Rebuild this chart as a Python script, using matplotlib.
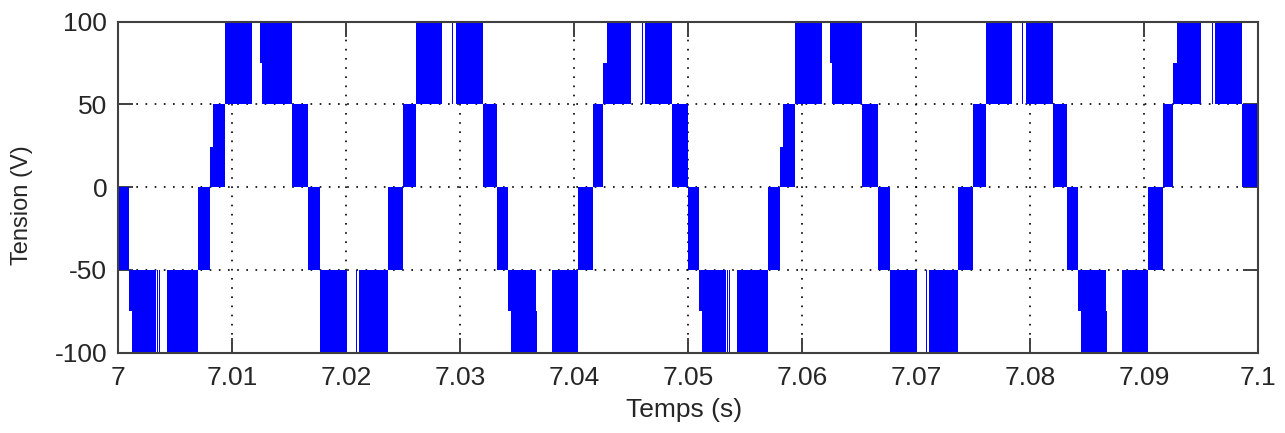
import matplotlib
matplotlib.use("Agg")
import matplotlib.pyplot as plt

# Time origin (s) and segment data (times in ms after 7.0 s)
t_origin = 7.0
seg_start_ms = [
    0.00, 0.98, 1.18, 3.39, 3.57, 4.25, 6.96, 8.04, 8.33, 9.36,
    12.43, 12.63, 15.26, 16.67, 17.69, 20.89, 21.11, 23.63, 25.00, 26.11,
    29.25, 29.62, 32.02, 33.26, 34.18, 34.42, 36.64, 36.86, 37.65, 38.02,
    40.35, 41.64, 42.52, 42.84, 45.11, 45.94, 46.20, 48.60,
    50.00, 50.98, 51.18, 53.39, 53.57, 54.25, 56.96, 58.04, 58.33, 59.36,
    62.43, 62.63, 65.26, 66.67, 67.69, 70.89, 71.11, 73.63, 75.00, 76.11,
    79.25, 79.62, 82.02, 83.26, 84.18, 84.42, 86.64, 86.86, 87.65, 88.02,
    90.35, 91.64, 92.52, 92.84, 95.11, 95.94, 96.20, 98.60,
]
seg_end_ms = [
    0.98, 1.18, 3.31, 3.45, 3.62, 6.96, 8.04, 8.33, 9.36, 11.70,
    12.63, 15.26, 16.67, 17.69, 20.09, 20.96, 23.63, 25.00, 26.11, 28.42,
    29.32, 32.02, 33.26, 34.18, 34.42, 36.64, 36.73, 36.93, 37.72, 40.35,
    41.64, 42.52, 42.84, 44.97, 45.18, 46.01, 48.60, 50.00,
    50.98, 51.18, 53.31, 53.45, 53.62, 56.96, 58.04, 58.33, 59.36, 61.70,
    62.63, 65.26, 66.67, 67.69, 70.09, 70.96, 73.63, 75.00, 76.11, 78.42,
    79.32, 82.02, 83.26, 84.18, 84.42, 86.64, 86.73, 86.93, 87.72, 90.35,
    91.64, 92.52, 92.84, 94.97, 95.18, 96.01, 98.60, 100.00,
]
seg_low = [
    -50, -75, -100, -100, -100, -100, -50, 0, 0, 50,
    75, 50, 0, -50, -100, -100, -100, -50, 0, 50,
    50, 50, 0, -50, -75, -100, -100, -100, -100, -100,
    -50, 0, 50, 50, 50, 50, 50, 0,
    -50, -75, -100, -100, -100, -100, -50, 0, 0, 50,
    75, 50, 0, -50, -100, -100, -100, -50, 0, 50,
    50, 50, 0, -50, -75, -100, -100, -100, -100, -100,
    -50, 0, 50, 50, 50, 50, 50, 0,
]
seg_high = [
    0, -50, -50, -50, -50, -50, 0, 24, 50, 100,
    100, 100, 50, 0, -50, -50, -50, 0, 50, 100,
    100, 100, 50, 0, -50, -50, -75, -50, -50, -50,
    0, 50, 75, 100, 100, 100, 100, 50,
    0, -50, -50, -50, -50, -50, 0, 24, 50, 100,
    100, 100, 50, 0, -50, -50, -50, 0, 50, 100,
    100, 100, 50, 0, -50, -50, -75, -50, -50, -50,
    0, 50, 75, 100, 100, 100, 100, 50,
]

x_ticks = [7.0, 7.01, 7.02, 7.03, 7.04, 7.05, 7.06, 7.07, 7.08, 7.09, 7.1]
x_tick_labels = ["7", "7.01", "7.02", "7.03", "7.04", "7.05", "7.06", "7.07", "7.08", "7.09", "7.1"]
y_ticks = [-100, -50, 0, 50, 100]
y_tick_labels = ["-100", "-50", "0", "50", "100"]

plt.rcParams['font.family'] = ['Liberation Sans', 'DejaVu Sans']

fig = plt.figure(figsize=(12.85, 4.33), dpi=100)
ax = fig.add_axes([118.3 / 1285, 1 - 352.5 / 433, (1258.3 - 118.3) / 1285, (352.5 - 21.7) / 433])

starts = [t_origin + s / 1000.0 for s in seg_start_ms]
widths = [(e - s) / 1000.0 for s, e in zip(seg_start_ms, seg_end_ms)]
heights = [h - l for l, h in zip(seg_low, seg_high)]
ax.bar(starts, heights, width=widths, bottom=seg_low, align='edge',
       color='#0000FF', linewidth=0, zorder=2)

ax.set_xlim(7.0, 7.1)
ax.set_ylim(-100, 100)
ax.set_xticks(x_ticks)
ax.set_xticklabels(x_tick_labels)
ax.set_yticks(y_ticks)
ax.set_yticklabels(y_tick_labels)

ax.grid(True, color='#000000', linestyle=(0, (1, 4.5)), linewidth=1.2, zorder=1)
ax.set_axisbelow(True)

for sp in ax.spines.values():
    sp.set_color('#404040')
    sp.set_linewidth(1.5)
ax.tick_params(direction='in', length=11, width=1.4, color='#404040',
               top=True, right=True, labelcolor='#262626')
ax.tick_params(axis='x', labelsize=19, pad=10)
ax.tick_params(axis='y', labelsize=19, pad=8)

ax.set_xlabel("Temps (s)", fontsize=19, color='#262626', va='center')
ax.set_ylabel("Tension (V)", fontsize=17, color='#262626', va='center')
ax.xaxis.set_label_coords((684 - 118.3) / 1140, (352.5 - 410) / 330.8)
ax.yaxis.set_label_coords((22 - 118.3) / 1140, (352.5 - 205) / 330.8)

fig.savefig("out.png", dpi=100)
